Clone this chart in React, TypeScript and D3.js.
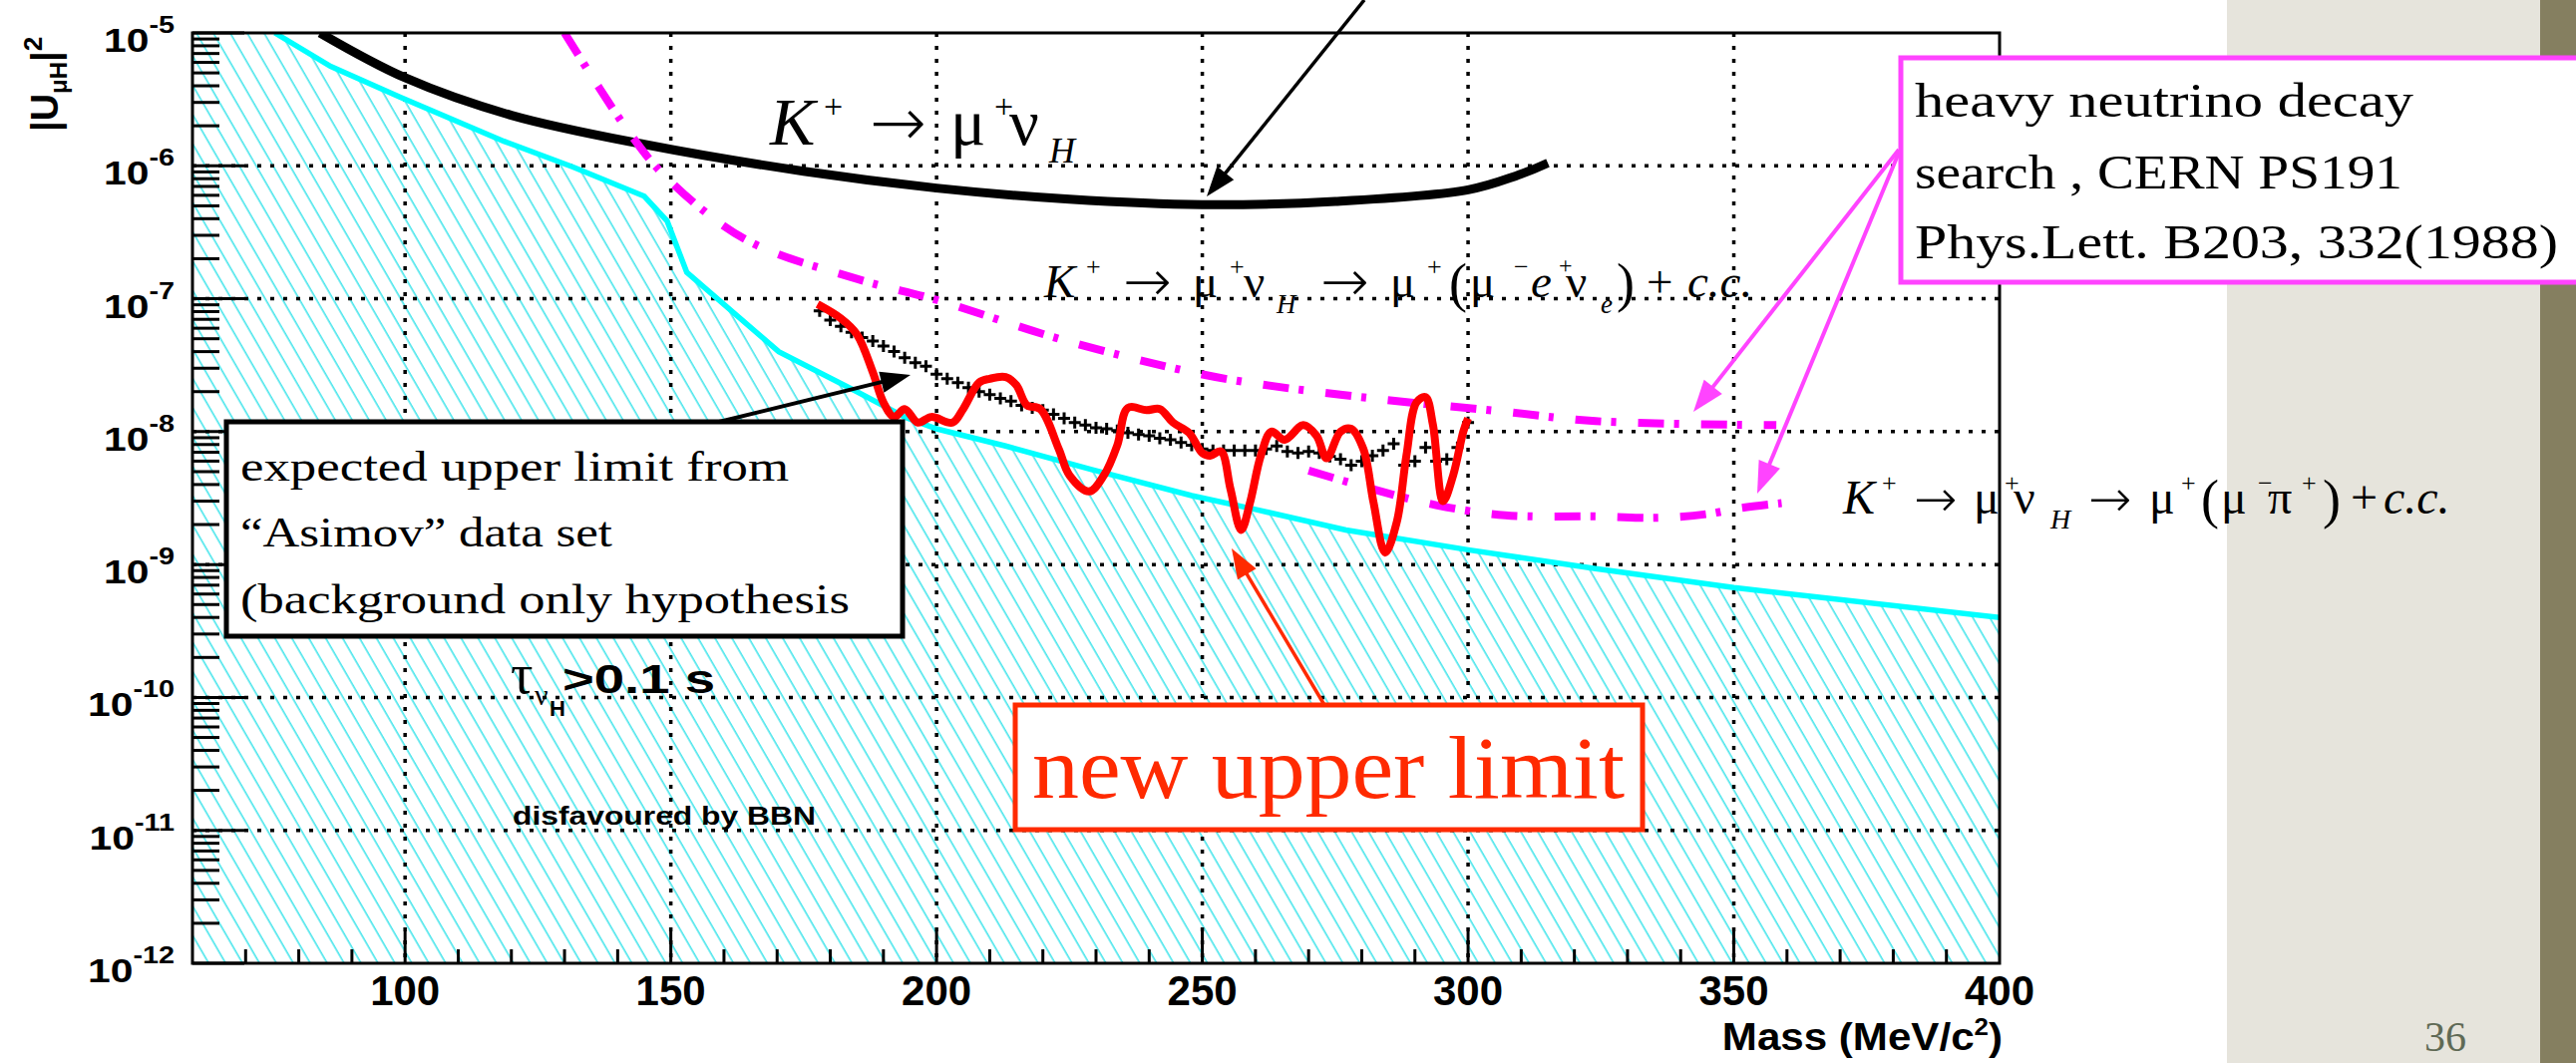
import { useMemo } from 'react';
import * as d3 from 'd3';

// ---- data ----
const massTicks = [100, 150, 200, 250, 300, 350, 400];
const decades = [-12, -11, -10, -9, -8, -7, -6, -5];

// K+ -> mu+ nu_H peak search (black)
const peakMass = [84, 100, 120, 145, 175, 200, 225, 250, 275, 300, 309, 315];
const peakLimit = [1.0e-5, 4.6e-6, 2.4e-6, 1.45e-6, 9.1e-7, 6.8e-7, 5.6e-7, 5.1e-7, 5.4e-7, 6.6e-7, 8.4e-7, 1.05e-6];

// BBN bound (cyan, hatched below)
const bbnMass = [75.5, 86, 99, 118.6, 131.6, 145, 149.3, 153, 170.3, 185, 194, 200, 213, 229, 248, 260, 277, 300, 324, 350, 400];
const bbnLimit = [1e-5, 5.6e-6, 3.3e-6, 1.53e-6, 9.8e-7, 5.9e-7, 3.85e-7, 1.58e-7, 4.0e-8, 2.0e-8, 1.29e-8, 1.05e-8, 7.8e-9, 5.2e-9, 3.3e-9, 2.6e-9, 1.82e-9, 1.29e-9, 9.3e-10, 6.7e-10, 4.0e-10];

// PS191, mu e nu channel (magenta, upper)
const ps191MueMass = [130, 142, 149, 164, 185, 200, 223, 248, 260, 282, 307, 324, 358];
const ps191MueLimit = [1e-5, 1.82e-6, 8.3e-7, 2.8e-7, 1.41e-7, 9.8e-8, 5.0e-8, 2.8e-8, 2.3e-8, 1.78e-8, 1.41e-8, 1.2e-8, 1.12e-8];

// PS191, mu pi channel (magenta, lower)
const ps191MupiMass = [270, 282, 294, 307, 325, 336, 345, 351, 359];
const ps191MupiLimit = [5.1e-9, 3.7e-9, 2.8e-9, 2.35e-9, 2.3e-9, 2.25e-9, 2.4e-9, 2.65e-9, 2.9e-9];

// new upper limit (red)
const newMass = [177.6, 182, 185, 188, 190, 192, 194, 196.5, 199, 203, 205, 208, 210, 213, 215, 217, 219.5, 223, 225, 228.7, 231.5, 234, 236, 239.5, 242, 244.5, 247.5, 250, 251.5, 253.5, 255.3, 257.3, 259, 261, 263, 265.5, 269, 271.5, 273.4, 276, 278, 280.3, 282.2, 284.4, 286.6, 288.4, 290.3, 292, 293.4, 295.3, 297.2, 299.1, 300];
const newLimit = [9.1e-8, 7.1e-8, 5.4e-8, 2.8e-8, 1.66e-8, 1.29e-8, 1.48e-8, 1.17e-8, 1.29e-8, 1.17e-8, 1.48e-8, 2.34e-8, 2.5e-8, 2.57e-8, 2.24e-8, 1.58e-8, 1.48e-8, 7.4e-9, 4.7e-9, 3.55e-9, 4.7e-9, 7.9e-9, 1.51e-8, 1.45e-8, 1.48e-8, 1.17e-8, 9.8e-9, 6.9e-9, 6.6e-9, 7.1e-9, 3.7e-9, 1.82e-9, 2.95e-9, 6.6e-9, 1.0e-8, 8.7e-9, 1.12e-8, 9.3e-9, 6.3e-9, 1.0e-8, 1.05e-8, 7.4e-9, 2.95e-9, 1.23e-9, 2.1e-9, 6.6e-9, 1.66e-8, 1.82e-8, 1.12e-8, 3.0e-9, 4.7e-9, 1.0e-8, 1.26e-8];

// expected limit, Asimov data set (black crosses)
const expMass = [178, 180, 182, 184, 186, 188, 190, 192, 194, 196, 198, 200, 202, 204, 206, 208, 210, 212, 214, 216, 218, 220, 222, 224, 226, 228, 230, 232, 234, 236, 238, 240, 242, 244, 246, 248, 250, 252, 254, 256, 258, 260, 262, 264, 266, 268, 270, 272, 274, 276, 278, 280, 282, 284, 286, 288, 290, 292, 294, 296, 298, 300];
const expLimit = [8.1e-8, 6.9e-8, 6.2e-8, 5.6e-8, 5.1e-8, 4.8e-8, 4.4e-8, 4.0e-8, 3.6e-8, 3.3e-8, 3.1e-8, 2.7e-8, 2.5e-8, 2.34e-8, 2.14e-8, 2.0e-8, 1.9e-8, 1.78e-8, 1.7e-8, 1.58e-8, 1.51e-8, 1.45e-8, 1.35e-8, 1.26e-8, 1.17e-8, 1.12e-8, 1.07e-8, 1.05e-8, 1.02e-8, 9.8e-9, 9.5e-9, 9.3e-9, 8.9e-9, 8.7e-9, 8.3e-9, 7.9e-9, 7.4e-9, 7.2e-9, 7.2e-9, 7.2e-9, 7.2e-9, 7.2e-9, 7.4e-9, 7.8e-9, 7.1e-9, 6.9e-9, 7.1e-9, 6.9e-9, 6.5e-9, 6.2e-9, 5.6e-9, 6.0e-9, 6.6e-9, 7.2e-9, 8.1e-9, 5.6e-9, 6.0e-9, 7.6e-9, 6.0e-9, 6.2e-9, 7.6e-9, 1.17e-8];

const SANS = '"Liberation Sans", Arial, Helvetica, sans-serif';
const SERIF = '"Liberation Serif", "Times New Roman", serif';
const ARROWFONT = '"DejaVu Sans", sans-serif';

// formula pieces: text, x, baseline, size, italic
type Piece = [string, number, number, number, boolean];

const decayTop: Piece[] = [
  ['K', 772, 145, 68, true], ['+', 826, 118, 34, false], ['→', 872, 146, 68, false],
  ['μ', 953, 145, 66, false], ['+', 997, 118, 34, false], ['ν', 1012, 145, 66, false],
  ['H', 1052, 163, 36, true],
];
const decayMue: Piece[] = [
  ['K', 1047, 298, 47, true], ['+', 1089, 276, 26, false], ['→', 1126, 302, 58, false],
  ['μ', 1196, 298, 47, false], ['+', 1233, 276, 26, false], ['ν', 1247, 298, 47, false],
  ['H', 1280, 314, 27, true], ['→', 1324, 302, 58, false], ['μ', 1394, 298, 47, false],
  ['+', 1431, 276, 26, false], ['(', 1453, 302, 54, false], ['μ', 1474, 298, 47, false],
  ['−', 1518, 276, 26, false], ['e', 1535, 298, 47, true], ['+', 1563, 274, 24, false],
  ['ν', 1570, 298, 47, false], ['e', 1605, 314, 27, true], [')', 1621, 302, 54, false],
  ['+', 1651, 298, 47, false], ['c.c.', 1692, 298, 47, true],
];
const decayMupi: Piece[] = [
  ['K', 1848, 515, 48, true], ['+', 1887, 493, 26, false], ['→', 1919, 518, 52, false],
  ['μ', 1979, 515, 48, false], ['+', 2010, 493, 26, false], ['ν', 2019, 515, 48, false],
  ['H', 2056, 530, 28, true], ['→', 2094, 518, 52, false], ['μ', 2155, 515, 48, false],
  ['+', 2187, 493, 26, false], ['(', 2207, 519, 54, false], ['μ', 2227, 515, 48, false],
  ['−', 2264, 493, 26, false], ['π', 2274, 515, 48, false], ['+', 2308, 493, 26, false],
  [')', 2329, 519, 54, false], ['+', 2357, 515, 48, false], ['c.c.', 2390, 515, 48, true],
];

// one text element per formula, glyph groups placed with tspans
const Formula = ({ pieces }: { pieces: Piece[] }) => (
  <text fontFamily={SERIF} fill="#000">
    {pieces.map(([t, px, py, fs, it], i) => (
      <tspan key={i} x={px} y={py} fontSize={fs} fontStyle={it ? 'italic' : 'normal'}
        fontFamily={t === '→' ? ARROWFONT : SERIF} fontWeight={t === '→' ? 300 : 'normal'}>{t}</tspan>
    ))}
  </text>
);

const Arrow = ({ x1, y1, x2, y2, color, width, head }:
  { x1: number; y1: number; x2: number; y2: number; color: string; width: number; head: number }) => {
  const dx = x2 - x1, dy = y2 - y1;
  const len = Math.hypot(dx, dy);
  const ux = dx / len, uy = dy / len;
  const bx = x2 - ux * head, by = y2 - uy * head;
  const px = -uy * head * 0.36, py = ux * head * 0.36;
  return (
    <g>
      <line x1={x1} y1={y1} x2={bx + ux * 2} y2={by + uy * 2} stroke={color} strokeWidth={width} />
      <path d={`M${x2},${y2}L${bx + px},${by + py}L${bx - px},${by - py}Z`} fill={color} />
    </g>
  );
};

const App = () => {
  const W = 2583, H = 1066;
  const left = 193, right = 2005, top = 33, bottom = 966;

  const x = useMemo(() => d3.scaleLinear().domain([60, 400]).range([left, right]), []);
  const y = useMemo(() => d3.scaleLog().domain([1e-12, 1e-5]).range([bottom, top]), []);

  const makeLine = (mass: number[], lim: number[], curve: d3.CurveFactory) =>
    d3.line<number>().x((_, i) => x(mass[i])).y((_, i) => y(lim[i])).curve(curve)(mass) || undefined;

  const peakPath = useMemo(() => makeLine(peakMass, peakLimit, d3.curveCatmullRom), []);
  const bbnPath = useMemo(() => makeLine(bbnMass, bbnLimit, d3.curveLinear), []);
  const muePath = useMemo(() => makeLine(ps191MueMass, ps191MueLimit, d3.curveCatmullRom), []);
  const mupiPath = useMemo(() => makeLine(ps191MupiMass, ps191MupiLimit, d3.curveCatmullRom), []);
  const newPath = useMemo(() => makeLine(newMass, newLimit, d3.curveCatmullRom.alpha(0.5)), []);

  // hatched region: everything under the BBN curve
  const hatchArea = useMemo(() => {
    const pts: [number, number][] = [[60, 1e-5], ...bbnMass.map((m, i) => [m, bbnLimit[i]] as [number, number])];
    return d3.area<[number, number]>()
      .x(d => x(d[0]))
      .y0(y(1e-12))
      .y1(d => y(d[1]))(pts) || undefined;
  }, []);

  const crosses = useMemo(() => expMass.map((m, i) => {
    const cx = x(m), cy = y(expLimit[i]);
    return `M${cx - 6},${cy}h12M${cx},${cy - 6}v12`;
  }).join(''), []);

  const minorX = d3.range(70, 400, 10).filter(v => v % 50 !== 0);
  const minorY: number[] = [];
  decades.slice(0, -1).forEach(e => { for (let k = 2; k <= 9; k++) minorY.push(k * 10 ** e); });

  return (
    <svg width={W} height={H} style={{ position: 'absolute', left: 0, top: 0, display: 'block' }}>
      <defs>
        <clipPath id="plot"><rect x={left} y={top} width={right - left} height={bottom - top} /></clipPath>
        <pattern id="hatch" patternUnits="userSpaceOnUse" width={14.7} height={30} patternTransform="rotate(-30)">
          <line x1={7} y1={-2} x2={7} y2={32} stroke="#3ae4ea" strokeWidth={1.5} />
        </pattern>
      </defs>

      {/* slide background */}
      <rect x={0} y={0} width={W} height={H} fill="#ffffff" />
      <rect x={2233} y={0} width={314} height={H} fill="#e6e4dc" />
      <rect x={2547} y={0} width={36} height={H} fill="#857f60" />

      <g clipPath="url(#plot)">
        <path d={hatchArea} fill="url(#hatch)" />
      </g>

      {/* dotted grid */}
      <g stroke="#000" strokeWidth={3.5} strokeDasharray="4 9">
        {massTicks.filter(m => m < 400).map(m => (
          <line key={m} x1={x(m)} x2={x(m)} y1={top} y2={bottom} />
        ))}
        {decades.filter(e => e > -12 && e < -5).map(e => (
          <line key={e} x1={left} x2={right} y1={y(10 ** e)} y2={y(10 ** e)} />
        ))}
      </g>

      <g clipPath="url(#plot)" fill="none">
        <path d={bbnPath} stroke="#00ffff" strokeWidth={5.5} />
        <path d={peakPath} stroke="#000" strokeWidth={9} />
        <path d={muePath} stroke="#ff00ff" strokeWidth={8} strokeDasharray="26 10 5 22" />
        <path d={mupiPath} stroke="#ff00ff" strokeWidth={8} strokeDasharray="26 10 5 22" />
        <path d={crosses} stroke="#000" strokeWidth={3} />
        <path d={newPath} stroke="#ff0000" strokeWidth={8} strokeLinejoin="round" />
      </g>

      {/* frame and ticks */}
      <rect x={left} y={top} width={right - left} height={bottom - top} fill="none" stroke="#000" strokeWidth={3} />
      <g stroke="#000" strokeWidth={3}>
        {decades.map(e => (
          <line key={e} x1={left} x2={left + 52} y1={y(10 ** e)} y2={y(10 ** e)} />
        ))}
        {minorY.map(v => (
          <line key={v} x1={left} x2={left + 27} y1={y(v)} y2={y(v)} />
        ))}
        {massTicks.filter(m => m < 400).map(m => (
          <line key={m} x1={x(m)} x2={x(m)} y1={bottom} y2={bottom - 32} />
        ))}
        {minorX.map(m => (
          <line key={m} x1={x(m)} x2={x(m)} y1={bottom} y2={bottom - 14} />
        ))}
      </g>

      {/* tick labels */}
      <g fontFamily={SANS} fontWeight="bold" fill="#000">
        {decades.map(e => (
          <text key={e} transform={`translate(175,${y(10 ** e) + 19}) scale(1.2,1)`} textAnchor="end" fontSize={34}>
            10<tspan dy={-19} fontSize={24}>{e}</tspan>
          </text>
        ))}
        {massTicks.map(m => (
          <text key={m} x={x(m)} y={1008} textAnchor="middle" fontSize={42}>{m}</text>
        ))}
        <text transform="translate(2008,1053) scale(1.08,1)" textAnchor="end" fontSize={39}>
          Mass (MeV/c<tspan dy={-15} fontSize={24}>2</tspan><tspan dy={15}>)</tspan>
        </text>
        <text transform="translate(58,132) rotate(-90)" fontSize={38}>
          |U<tspan dy={9} fontSize={24}>μH</tspan><tspan dy={-9}>|</tspan><tspan dy={-16} fontSize={26}>2</tspan>
        </text>
      </g>

      {/* in-plot labels */}
      <text fontFamily={SERIF}>
        <tspan x={512} y={695} fontSize={56}>τ</tspan>
        <tspan x={536} y={707} fontSize={30}>ν</tspan>
        <tspan x={551} y={718} fontFamily={SANS} fontWeight="bold" fontSize={22}>H</tspan>
      </text>
      <text x={564} y={695} fontFamily={SANS} fontWeight="bold" fontSize={40} textLength={153} lengthAdjust="spacingAndGlyphs">&gt;0.1 s</text>
      <text x={514} y={827} fontFamily={SANS} fontWeight="bold" fontSize={26} textLength={304} lengthAdjust="spacingAndGlyphs">disfavoured by BBN</text>

      <Formula pieces={decayTop} />
      <Formula pieces={decayMue} />
      <Formula pieces={decayMupi} />

      {/* annotation arrows and boxes */}
      <Arrow x1={1368} y1={0} x2={1210} y2={197} color="#000" width={3.5} head={30} />
      <Arrow x1={717} y1={424} x2={913} y2={376} color="#000" width={4} head={30} />
      <Arrow x1={1328} y1={707} x2={1235} y2={550} color="#ff2a00" width={3.5} head={30} />
      <Arrow x1={1904} y1={150} x2={1698} y2={413} color="#ff44ff" width={4} head={32} />
      <Arrow x1={1904} y1={153} x2={1762} y2={495} color="#ff44ff" width={4} head={32} />

      <rect x={227} y={423} width={678} height={215} fill="#fff" stroke="#000" strokeWidth={5} />
      <g fontFamily={SERIF} fontSize={43} fill="#000">
        <text x={241} y={482} textLength={550} lengthAdjust="spacingAndGlyphs">expected upper limit from</text>
        <text x={241} y={548} textLength={373} lengthAdjust="spacingAndGlyphs">“Asimov” data set</text>
        <text x={241} y={615} textLength={611} lengthAdjust="spacingAndGlyphs">(background only hypothesis</text>
      </g>

      <rect x={1018} y={707} width={629} height={125} fill="#fff" stroke="#ff2a00" strokeWidth={5} />
      <text x={1035} y={800} fontFamily={SERIF} fontSize={88} fill="#ff2a00" textLength={594} lengthAdjust="spacingAndGlyphs">new upper limit</text>

      <rect x={1906} y={58} width={700} height={225} fill="#fff" stroke="#ff44ff" strokeWidth={5} />
      <g fontFamily={SERIF} fontSize={49} fill="#000">
        <text x={1920} y={117} textLength={500} lengthAdjust="spacingAndGlyphs">heavy neutrino decay</text>
        <text x={1920} y={189} textLength={489} lengthAdjust="spacingAndGlyphs">search , CERN PS191</text>
        <text x={1920} y={259} textLength={645} lengthAdjust="spacingAndGlyphs">Phys.Lett. B203, 332(1988)</text>
      </g>

      <text x={2431} y={1054} fontFamily={SERIF} fontSize={42} fill="#5f6a55">36</text>
    </svg>
  );
};

export default App;
